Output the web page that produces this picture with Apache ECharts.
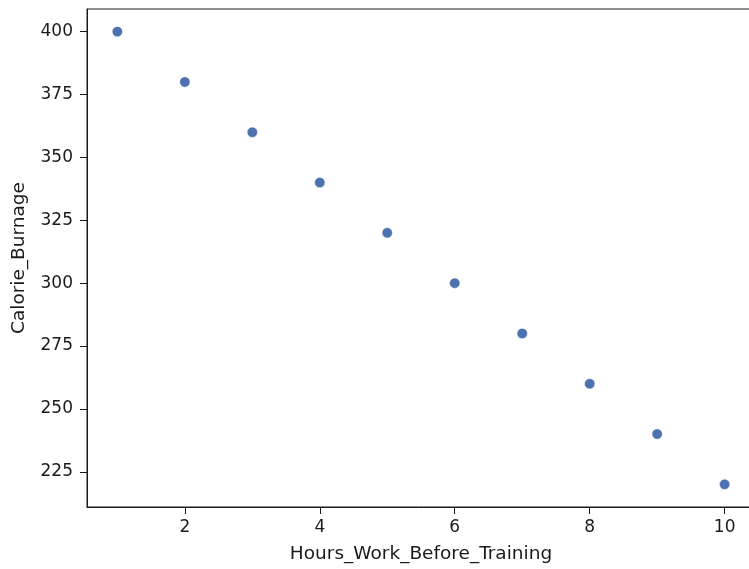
<!DOCTYPE html>
<html><head><meta charset="utf-8">
<script src="https://cdn.jsdelivr.net/npm/echarts@6/dist/echarts.min.js"></script>
<style>html,body{margin:0;padding:0;background:#fff;overflow:hidden}#c{width:749px;height:569px}</style>
</head><body><div id="c"></div>
<script>
const hours = [1, 2, 3, 4, 5, 6, 7, 8, 9, 10];
const calories = [400, 380, 360, 340, 320, 300, 280, 260, 240, 220];
const xTicks = [2, 4, 6, 8, 10];
const yTicks = [225, 250, 275, 300, 325, 350, 375, 400];

const chart = echarts.init(document.getElementById('c'));
const font = 'DejaVu Sans';
const txt = '#1a1a1a';
chart.setOption({
  animation: false,
  grid: {left: 87, width: 668, top: 9, height: 498, show: true, borderColor: '#1a1a1a', borderWidth: 1,
         containLabel: false, outerBoundsMode: 'none'},
  xAxis: {
    type: 'value', min: 0.55, max: 10.45,
    name: 'Hours_Work_Before_Training', nameLocation: 'middle', nameGap: 38,
    nameTextStyle: {fontFamily: font, fontSize: 18.5, color: txt},
    axisLine: {show: true, lineStyle: {color: '#1a1a1a', width: 1}},
    axisTick: {show: true, length: 7, customValues: xTicks, lineStyle: {color: '#1a1a1a'}},
    axisLabel: {customValues: xTicks, fontFamily: font, fontSize: 17, color: txt, margin: 12},
    splitLine: {show: false}
  },
  yAxis: {
    type: 'value', min: 211, max: 409,
    name: 'Calorie_Burnage', nameLocation: 'middle', nameGap: 58,
    nameTextStyle: {fontFamily: font, fontSize: 18.5, color: txt},
    axisLine: {show: true, lineStyle: {color: '#1a1a1a', width: 1}},
    axisTick: {show: true, length: 7, customValues: yTicks, lineStyle: {color: '#1a1a1a'}},
    axisLabel: {customValues: yTicks, fontFamily: font, fontSize: 17, color: txt, margin: 14},
    splitLine: {show: false}
  },
  series: [{
    type: 'scatter',
    data: hours.map((h, i) => [h, calories[i]]),
    symbolSize: 10.5,
    itemStyle: {color: '#4c72b0', borderColor: '#fff', borderWidth: 0.6, opacity: 1}
  }]
});
</script></body></html>
